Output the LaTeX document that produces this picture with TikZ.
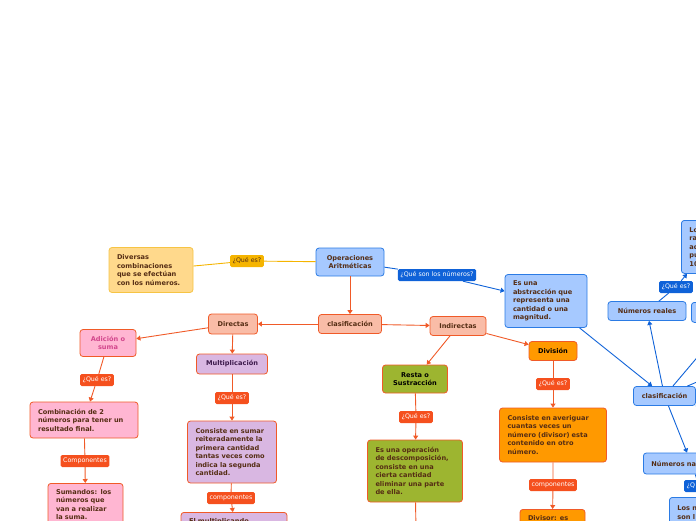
\documentclass[tikz,border=0pt]{standalone}
\usepackage{fontspec}
\setmainfont{DejaVu Sans}
\definecolor{mmblue}{RGB}{166,201,255}
\definecolor{mmbluedraw}{RGB}{43,123,228}
\definecolor{mmblueline}{RGB}{15,98,216}
\definecolor{mmyellow}{RGB}{255,217,140}
\definecolor{mmyellowdraw}{RGB}{246,196,68}
\definecolor{mmyellowline}{RGB}{245,180,0}
\definecolor{mmsalmon}{RGB}{249,188,167}
\definecolor{mmorange}{RGB}{240,90,40}
\definecolor{mmtag}{RGB}{245,80,30}
\definecolor{mmpink}{RGB}{255,182,210}
\definecolor{mmpurple}{RGB}{217,183,226}
\definecolor{mmgreen}{RGB}{157,181,48}
\definecolor{mmamber}{RGB}{255,153,0}
\definecolor{mmbrown}{RGB}{85,45,20}
\definecolor{mmmagenta}{RGB}{210,70,140}
\definecolor{mmplum}{RGB}{60,25,75}
\usetikzlibrary{arrows.meta,positioning}

\begin{document}
\begin{tikzpicture}[x=1pt,y=-1pt]
        \tikzset{topic/.style={rectangle, rounded corners=3pt, draw=mmorange, line width=0.8pt,
            align=center, inner sep=2pt, text=mmbrown, font=\fontsize{6.6}{8.5}\selectfont\bfseries},
          note/.style={topic, align=left, inner xsep=8pt},
          cutnote/.style={note, inner ysep=6pt, anchor=north},
          tag/.style={rectangle, rounded corners=1.5pt, inner xsep=2.5pt, inner ysep=2pt,
            minimum height=12pt, text=white, font=\fontsize{6.3}{7}\selectfont},
          link/.style={draw=mmorange, line width=0.9pt},
          arr/.style={link, -{Triangle[width=5pt,length=4pt]}}}
        \useasboundingbox (0,0) rectangle (696,520);
        \clip (0,0) rectangle (696,520);
        % Root
        \node[topic, fill=mmblue, draw=mmbluedraw, minimum width=68pt, minimum height=28pt] (opar) at (350,262) {Operaciones\\Aritméticas};
        \node[note, fill=mmyellow, draw=mmyellowdraw, text width=68pt, minimum height=45pt] (divers) at (151,270) {Diversas\\combinaciones\\que se efectúan\\con los números.};
        \node[tag, fill=mmyellowline, text=mmbrown] (lqe1) at (247,261) {¿Qué es?};
        \node[tag, fill=mmblueline] (lnum) at (437,275) {¿Qué son los números?};
        \node[note, fill=mmblue, draw=mmbluedraw, text width=66pt, minimum height=53pt] (abstr) at (546,301) {Es una\\abstracción que\\representa una\\cantidad o una\\magnitud.};
        % Clasificacion
        \node[topic, fill=mmsalmon, minimum width=63pt, minimum height=19pt] (clasif) at (350,324) {clasificación};
        \node[topic, fill=mmsalmon, minimum width=49pt, minimum height=20pt] (direc) at (233,324) {Directas};
        \node[topic, fill=mmsalmon, minimum width=56pt, minimum height=19pt] (indir) at (458,326) {Indirectas};
        % Adicion
        \node[topic, fill=mmpink, text=mmmagenta, minimum width=56pt, minimum height=27pt] (adic) at (108,343) {Adición o\\suma};
        \node[tag, fill=mmtag] (lqe2) at (97,380) {¿Qué es?};
        \node[note, fill=mmpink, text width=92pt, minimum height=36pt] (combi) at (84,420) {Combinación de 2\\números para tener un\\resultado final.};
        \node[tag, fill=mmtag] (lcomp1) at (85,461) {Componentes};
        \node[cutnote, fill=mmpink, text width=59pt] (suman) at (85.5,483) {Sumandos: los\\números que\\van a realizar\\la suma.};
        % Multiplicacion
        \node[topic, fill=mmpurple, text=mmplum, minimum width=71pt, minimum height=20pt] (multi) at (232,364) {Multiplicación};
        \node[tag, fill=mmtag] (lqe3) at (232,398) {¿Qué es?};
        \node[note, fill=mmpurple, text width=73pt, minimum height=62pt] (consis) at (232,452) {Consiste en sumar\\reiteradamente la\\primera cantidad\\tantas veces como\\indica la segunda\\cantidad.};
        \node[tag, fill=mmtag] (lcomp2) at (231,498) {componentes};
        \node[cutnote, fill=mmpurple, text width=90pt] (multip) at (234,512) {El multiplicando};
        % Resta
        \node[topic, fill=mmgreen, text=black, minimum width=65pt, minimum height=28pt] (resta) at (415,379) {Resta o\\Sustracción};
        \node[tag, fill=mmtag] (lqe4) at (416,417) {¿Qué es?};
        \node[note, fill=mmgreen, text width=79pt, minimum height=62pt] (opera) at (415,471) {Es una operación\\de descomposición,\\consiste en una\\cierta cantidad\\eliminar una parte\\de ella.};
        \coordinate (restaend) at (416,530);
        % Division
        \node[topic, fill=mmamber, text=black, minimum width=48pt, minimum height=19pt] (divis) at (553,351) {División};
        \node[tag, fill=mmtag] (lqe5) at (553,384) {¿Qué es?};
        \node[note, fill=mmamber, text width=91pt, minimum height=54pt] (averi) at (553,435) {Consiste en averiguar\\cuantas veces un\\número (divisor) esta\\contenido en otro\\número.};
        \node[tag, fill=mmtag] (lcomp3) at (553,485) {componentes};
        \node[cutnote, fill=mmamber, text width=49pt] (divisor) at (552.5,509) {Divisor: es};
        % Numeros
        \node[topic, fill=mmblue, draw=mmbluedraw, minimum width=62pt, minimum height=19pt] (clasb) at (664.5,396) {clasificación};
        \node[topic, fill=mmblue, draw=mmbluedraw, minimum width=78pt, minimum height=19pt] (reales) at (647,311) {Números reales};
        \node[tag, fill=mmblueline] (lqe6) at (676,287) {¿Qué es?};
        \node[note, fill=mmblue, draw=mmbluedraw, text width=40pt, minimum height=53pt, anchor=north west] (lobox) at (681,220) {Lo\\ra\\ad\\pu\\10};
        \node[topic, fill=mmblue, draw=mmbluedraw, minimum width=40pt, minimum height=20pt, anchor=north west] (rbox) at (691,302) {};
        \node[note, fill=mmblue, draw=mmbluedraw, text width=80pt, minimum height=21pt, anchor=west] (natur) at (643,463.5) {Números na};
        \node[tag, fill=mmblueline, text width=25pt, align=left, anchor=west] (lq7) at (684,486) {¿Q};
        \node[note, fill=mmblue, draw=mmbluedraw, text width=50pt, minimum height=30pt, anchor=north west] (losn) at (669,497) {Los n\\son l};
        \coordinate (outa) at (706,347);
        \coordinate (outb) at (720,372);
        \coordinate (outc) at (716,430);
        % Connectors
        \draw[link, draw=mmyellowline] (opar) -- (lqe1) -- (divers);
        \draw[arr, draw=mmblueline] (opar) -- (lnum) -- (abstr);
        \draw[arr] (opar) -- (clasif);
        \draw[arr] (clasif) -- (direc);
        \draw[arr] (clasif) -- (indir);
        \draw[arr] (direc) -- (adic);
        \draw[arr] (direc) -- (multi);
        \draw[arr] (adic) -- (lqe2) -- (combi);
        \draw[arr] (combi) -- (lcomp1) -- (suman);
        \draw[arr] (multi) -- (lqe3) -- (consis);
        \draw[arr] (consis) -- (lcomp2) -- (multip);
        \draw[arr] (indir) -- (resta);
        \draw[arr] (indir) -- (divis);
        \draw[arr] (resta) -- (lqe4) -- (opera);
        \draw[link] (opera) -- (restaend);
        \draw[arr] (divis) -- (lqe5) -- (averi);
        \draw[arr] (averi) -- (lcomp3) -- (divisor);
        \draw[arr, draw=mmblueline] (abstr) -- (clasb);
        \draw[arr, draw=mmblueline] (clasb) -- (reales);
        \draw[arr, draw=mmblueline] (reales) -- (lqe6) -- (lobox);
        \draw[arr, draw=mmblueline] (clasb) -- (natur);
        \draw[arr, draw=mmblueline] (natur) -- (lq7) -- (losn);
        \draw[link, draw=mmblueline] (clasb) -- (outa);
        \draw[link, draw=mmblueline] (clasb) -- (outb);
        \draw[link, draw=mmblueline] (clasb.-17) -- (outc);
      \end{tikzpicture}
\end{document}
